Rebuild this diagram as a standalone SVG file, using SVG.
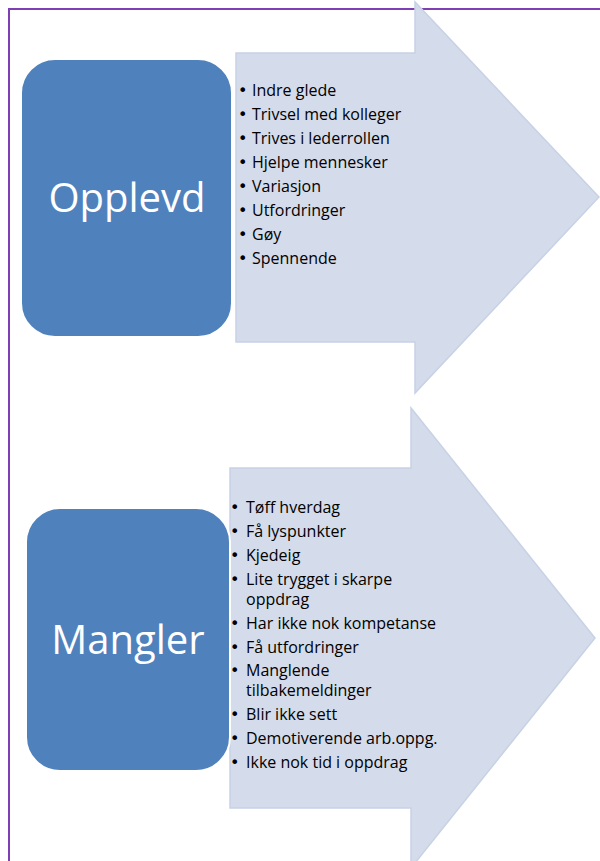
<svg xmlns="http://www.w3.org/2000/svg" width="600" height="861" viewBox="0 0 600 861">
<style>
.arrow{fill:#d4dbea;stroke:#c8d2e6;stroke-width:1.5}
.box{fill:#4f81bd;stroke:#ffffff;stroke-width:2}
.big{font-family:"Open Sans","Liberation Sans",sans-serif;font-size:40px;fill:#ffffff;text-anchor:middle}
.li{font-family:"Open Sans","Liberation Sans",sans-serif;font-size:16px;fill:#000000}
.b{font-family:"DejaVu Sans",sans-serif;font-size:16px;fill:#000000}
</style>
<rect width="600" height="861" fill="#ffffff"/>
<path d="M9,861 V9 H600" fill="none" stroke="#7d3fb3" stroke-width="2"/>
<g id="connectors"/>
<g id="arrow-opplevd">
<polygon class="arrow" points="236,53 415,53 415,2 599,197 415,393 415,342 236,342"/>
<g class="b">
<text x="238" y="96">•</text><text x="238" y="120">•</text><text x="238" y="144">•</text><text x="238" y="168">•</text>
<text x="238" y="192">•</text><text x="238" y="216">•</text><text x="238" y="240">•</text><text x="238" y="264">•</text>
</g>
<g class="li">
<text x="252" y="96">Indre glede</text>
<text x="252" y="120">Trivsel med kolleger</text>
<text x="252" y="144">Trives i lederrollen</text>
<text x="252" y="168">Hjelpe mennesker</text>
<text x="252" y="192">Variasjon</text>
<text x="252" y="216">Utfordringer</text>
<text x="252" y="240">Gøy</text>
<text x="252" y="264">Spennende</text>
</g>
</g>
<g id="node-opplevd">
<rect class="box" x="21" y="59" width="211" height="278" rx="34"/>
<text class="big" x="127" y="212">Opplevd</text>
</g>
<g id="arrow-mangler">
<polygon class="arrow" points="230,468 411,468 411,408 595,638 411,868 411,808 230,808"/>
<g class="b">
<text x="230" y="513">•</text><text x="230" y="537">•</text><text x="230" y="561">•</text><text x="230" y="585">•</text>
<text x="230" y="629">•</text><text x="230" y="653">•</text><text x="230" y="676">•</text>
<text x="230" y="720">•</text><text x="230" y="744">•</text><text x="230" y="768">•</text>
</g>
<g class="li">
<text x="246" y="513">Tøff hverdag</text>
<text x="246" y="537">Få lyspunkter</text>
<text x="246" y="561">Kjedeig</text>
<text x="246" y="585">Lite trygget i skarpe</text>
<text x="246" y="605">oppdrag</text>
<text x="246" y="629">Har ikke nok kompetanse</text>
<text x="246" y="653">Få utfordringer</text>
<text x="246" y="676">Manglende</text>
<text x="246" y="696">tilbakemeldinger</text>
<text x="246" y="720">Blir ikke sett</text>
<text x="246" y="744">Demotiverende arb.oppg.</text>
<text x="246" y="768">Ikke nok tid i oppdrag</text>
</g>
</g>
<g id="node-mangler">
<rect class="box" x="26" y="508" width="204" height="263" rx="34"/>
<text class="big" x="128" y="654">Mangler</text>
</g>
</svg>
